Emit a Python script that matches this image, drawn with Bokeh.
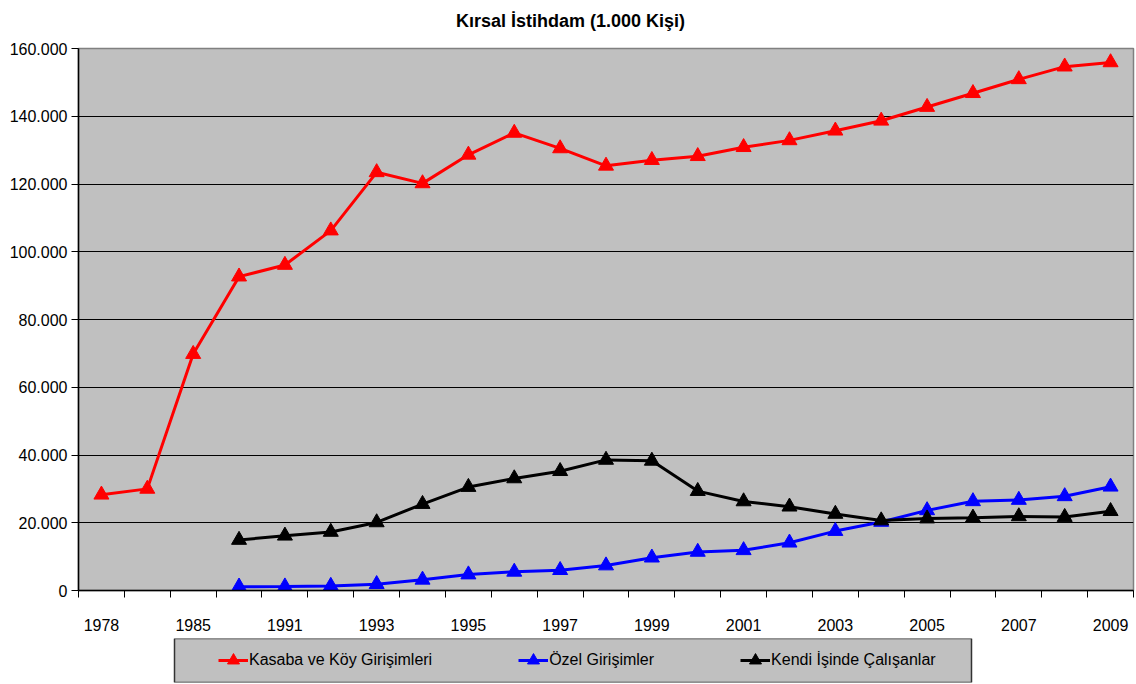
from bokeh.plotting import figure
from bokeh.models import Range1d, FixedTicker, Legend, LegendItem, Label, BoxAnnotation
from bokeh.layouts import column
from bokeh.embed import file_html
from bokeh.resources import INLINE

# ---------------- data (1.000 kişi) ----------------
years = ["1978", "1980", "1985", "1990", "1991", "1992", "1993", "1994", "1995",
         "1996", "1997", "1998", "1999", "2000", "2001", "2002", "2003", "2004",
         "2005", "2006", "2007", "2008", "2009"]
kasaba = [28270, 30000, 69790, 92650, 96090, 106250, 123450, 120180, 128620,
          135080, 130500, 125370, 127040, 128200, 130860, 132880, 135730, 138660,
          142720, 146800, 150900, 154640, 155900]
ozel = [None, None, None, 1130, 1160, 1340, 1860, 3160, 4710, 5510, 6000, 7370,
        9690, 11390, 11870, 14110, 17540, 20240, 23660, 26320, 26720, 27800, 30630]
kendi = [None, None, None, 14910, 16160, 17280, 20100, 25510, 30540, 33080, 35220,
         38550, 38270, 29340, 26290, 24740, 22600, 20660, 21230, 21470, 21870,
         21670, 23410]
y_ticks = [0, 20000, 40000, 60000, 80000, 100000, 120000, 140000, 160000]
y_tick_labels = ["0", "20.000", "40.000", "60.000", "80.000", "100.000",
                 "120.000", "140.000", "160.000"]
series_names = ["Kasaba ve Köy Girişimleri", "Özel Girişimler", "Kendi İşinde Çalışanlar"]
title_text = "Kırsal İstihdam  (1.000 Kişi)"

FONT = "Liberation Sans"
colors = ["#FF0000", "#0000FF", "#000000"]
NAN = float("nan")

def nan(v):
    return [NAN if a is None else a for a in v]

idx = list(range(len(years)))

W = 1136
LEFT, RIGHT = 78, 3
FW = W - LEFT - RIGHT

def blank_panel(height, top=0, bottom=0):
    f = figure(width=W, height=height, output_backend="svg", toolbar_location=None,
               x_range=Range1d(0, FW), y_range=Range1d(0, height - top - bottom),
               x_axis_location=None, y_axis_location=None,
               min_border_left=LEFT, min_border_right=RIGHT, min_border_top=top,
               min_border_bottom=bottom)
    f.background_fill_color = "white"
    f.border_fill_color = "white"
    f.outline_line_color = None
    f.xgrid.visible = False
    f.ygrid.visible = False
    return f

# ---------------- title panel ----------------
TH = 40
tf = blank_panel(TH)
tf.add_layout(Label(text=title_text, x=494.5, y=TH - 20, text_align="center",
                    text_baseline="middle", text_font=FONT, text_font_size="18px",
                    text_font_style="bold", text_color="black"))

# ---------------- main chart ----------------
p = figure(width=W, height=637 - TH, output_backend="svg", toolbar_location=None,
           x_range=Range1d(-0.5, len(years) - 0.5), y_range=Range1d(0, 160000),
           min_border_left=LEFT, min_border_right=RIGHT, min_border_top=48 - TH,
           min_border_bottom=47)
p.background_fill_color = "#C0C0C0"
p.border_fill_color = "white"
p.outline_line_color = "#808080"
p.outline_line_width = 1.5

# x axis
xt = FixedTicker(ticks=idx[::2], minor_ticks=[i - 0.5 for i in range(len(years) + 1)])
p.xaxis.ticker = xt
p.xaxis.major_label_overrides = {i: years[i] for i in idx[::2]}
p.xaxis.major_tick_out = 0
p.xaxis.major_tick_in = 0
p.xaxis.minor_tick_out = 7
p.xaxis.minor_tick_in = 0
p.xaxis.minor_tick_line_color = "black"
p.xaxis.axis_line_color = "black"
p.xaxis.axis_line_width = 1.5
p.xaxis.major_label_standoff = 21
p.xaxis.major_label_text_font = FONT
p.xaxis.major_label_text_font_size = "16px"
p.xaxis.major_label_text_color = "black"

# y axis
p.yaxis.ticker = FixedTicker(ticks=y_ticks, minor_ticks=[])
p.yaxis.major_label_overrides = {v: s for v, s in zip(y_ticks, y_tick_labels)}
p.yaxis.major_tick_out = 7
p.yaxis.major_tick_in = 0
p.yaxis.major_tick_line_color = "black"
p.yaxis.axis_line_color = "black"
p.yaxis.axis_line_width = 1.5
p.yaxis.major_label_standoff = 4
p.yaxis.major_label_text_font = FONT
p.yaxis.major_label_text_font_size = "16px"
p.yaxis.major_label_text_color = "black"

p.xgrid.visible = False
p.ygrid.ticker = FixedTicker(ticks=y_ticks[1:-1])
p.ygrid.grid_line_color = "black"
p.ygrid.grid_line_width = 1

for vals, c in zip([kasaba, ozel, kendi], colors):
    yv = nan(vals)
    p.line(idx, yv, line_color=c, line_width=3)
    p.scatter(idx, yv, marker="triangle", size=15, fill_color=c, line_color=c)

# ---------------- legend panel ----------------
lf = blank_panel(47, top=1, bottom=2)
box = BoxAnnotation(left=96, right=893, fill_color="#C0C0C0", fill_alpha=1,
                    line_color="#333333", line_width=1.5, line_alpha=1)
lf.add_layout(box)

items = []
for name, c in zip(series_names, colors):
    # legend proxies (single NaN point, nothing drawn in the panel itself)
    r1 = lf.line([NAN], [NAN], line_color=c, line_width=3)
    r2 = lf.scatter([NAN], [NAN], marker="triangle", size=13, fill_color=c, line_color=c)
    items.append(LegendItem(label=name, renderers=[r1, r2]))

leg = Legend(items=items, orientation="horizontal", location=(140, 2),
             glyph_width=30, glyph_height=40, label_standoff=1, spacing=86,
             padding=0, margin=0, label_text_font=FONT, label_text_font_size="16px",
             label_text_color="black", background_fill_alpha=0, border_line_alpha=0)
lf.add_layout(leg, "center")

layout = column(tf, p, lf)
open("out.html", "w").write(file_html(layout, INLINE))
